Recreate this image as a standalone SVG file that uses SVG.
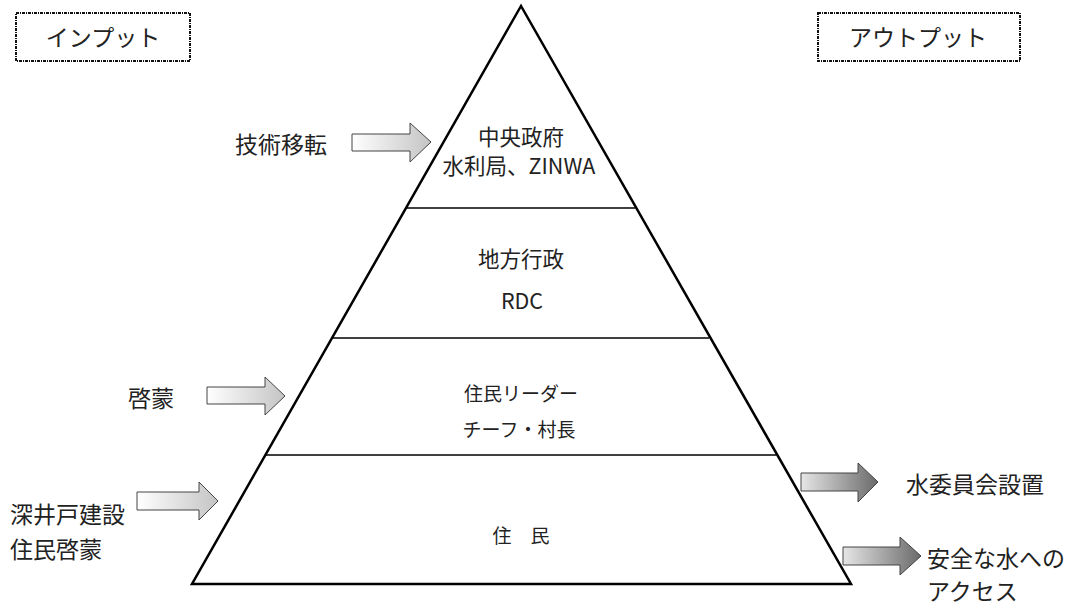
<svg xmlns="http://www.w3.org/2000/svg" width="1081" height="605" viewBox="0 0 1081 605">
<style>
text{font-family:"Noto Sans CJK JP","Noto Sans",sans-serif;font-size:23px;fill:#222;dominant-baseline:central;}
.c{text-anchor:middle;}
.p1{font-size:21.5px;}
.p3{font-size:19px;}
.box{fill:#fff;stroke:#111;stroke-width:2;stroke-dasharray:3 1 1 1;}
.tri{fill:#fff;stroke:#000;stroke-width:2.5;stroke-linejoin:miter;}
.sep{stroke:#000;stroke-width:1.3;}
.ain{fill:url(#gin);stroke:#444;stroke-width:1;}
.aout{fill:url(#gout);stroke:#444;stroke-width:1;}
</style>
<defs>
<linearGradient id="gin" x1="0" y1="0" x2="1" y2="0">
<stop offset="0" stop-color="#ffffff"/><stop offset="1" stop-color="#c4c4c4"/>
</linearGradient>
<linearGradient id="gout" x1="0" y1="0" x2="1" y2="0">
<stop offset="0" stop-color="#e6e6e6"/><stop offset="1" stop-color="#6a6a6a"/>
</linearGradient>
</defs>
<g id="pyramid">
<polygon class="tri" points="521,6 192,584 851,584"/>
<line class="sep" x1="407" y1="208" x2="635" y2="208"/>
<line class="sep" x1="333" y1="338" x2="709" y2="338"/>
<line class="sep" x1="266" y1="455" x2="776" y2="455"/>
</g>
<g id="input-box">
<rect class="box" x="16" y="13" width="174" height="48"/>
<text class="c" x="103" y="36" font-size="22">インプット</text>
</g>
<g id="output-box">
<rect class="box" x="818" y="13" width="202" height="48"/>
<text class="c" x="918" y="36" font-size="22">アウトプット</text>
</g>
<g id="level1">
<text class="c p1" x="521" y="135">中央政府</text>
<text class="c p1" x="519" y="164">水利局、ZINWA</text>
</g>
<g id="level2">
<text class="c p1" x="521" y="257">地方行政</text>
<text class="c p1" x="522" y="299">RDC</text>
</g>
<g id="level3">
<text class="c p3" x="521" y="392">住民リーダー</text>
<text class="c p3" x="519" y="428">チーフ・村長</text>
</g>
<g id="level4">
<text class="c p3" x="521" y="534">住　民</text>
</g>
<g id="connectors">
<polygon class="ain" points="352,134 410,134 410,123 431,142 410,162 410,151 352,151"/>
<polygon class="ain" points="207,387 265,387 265,377 285,396 265,415 265,404 207,404"/>
<polygon class="ain" points="137,492 199,492 199,482 218,501 199,520 199,510 137,510"/>
<polygon class="aout" points="801,473 858,473 858,463 878,482 858,502 858,491 801,491"/>
<polygon class="aout" points="843,547 900,547 900,537 921,556 900,575 900,565 843,565"/>
</g>
<g id="labels">
<text x="235" y="143">技術移転</text>
<text x="128" y="397">啓蒙</text>
<text x="10" y="513">深井戸建設</text>
<text x="10" y="548">住民啓蒙</text>
<text x="906" y="483">水委員会設置</text>
<text x="927" y="557">安全な水への</text>
<text x="927" y="590">アクセス</text>
</g>
</svg>
